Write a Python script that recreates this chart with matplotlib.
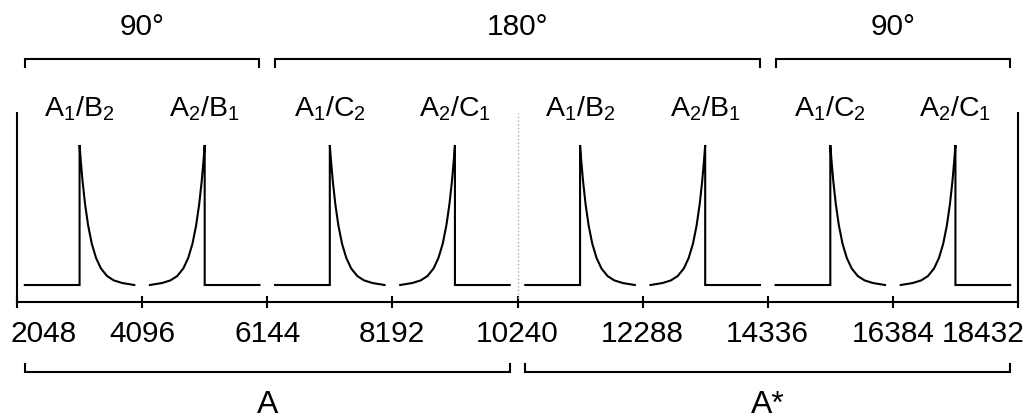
import matplotlib
matplotlib.use("Agg")
import matplotlib.pyplot as plt
import numpy as np

plt.rcParams['font.family'] = ['Liberation Sans', 'DejaVu Sans']
plt.rcParams['mathtext.fontset'] = 'custom'
plt.rcParams['mathtext.rm'] = 'Liberation Sans'
plt.rcParams['mathtext.it'] = 'Liberation Sans:italic'

### data
seg_width = 2048
seg_starts = [2048, 4096, 6144, 8192, 10240, 12288, 14336, 16384]
seg_kind = ['decay', 'rise', 'decay', 'rise', 'decay', 'rise', 'decay', 'rise']
seg_labels = [r'$\mathrm{A_1/B_2}$', r'$\mathrm{A_2/B_1}$', r'$\mathrm{A_1/C_2}$', r'$\mathrm{A_2/C_1}$',
              r'$\mathrm{A_1/B_2}$', r'$\mathrm{A_2/B_1}$', r'$\mathrm{A_1/C_2}$', r'$\mathrm{A_2/C_1}$']
# decay profile: offset after peak -> height
prof_dx = [0, 20, 50, 90, 140, 200, 270, 350, 450, 560, 700, 896]
prof_h = [1.0, 0.885, 0.737, 0.578, 0.426, 0.295, 0.193, 0.118, 0.064, 0.033, 0.014, 0.0]
margin = 128

top_groups = ['90°', '180°', '90°']
top_spans = [(0, 1), (2, 5), (6, 7)]
bot_groups = ['A', 'A*']
bot_spans = [(0, 3), (4, 7)]

ticks = [2048, 4096, 6144, 8192, 10240, 12288, 14336, 16384, 18432]
divider = 10240

### plot
fig = plt.figure(figsize=(10.27, 4.19), dpi=100)
ax = fig.add_axes([17/1027, 117/419, 1001/1027, 189/419])

dx = np.array(prof_dx)
h = np.array(prof_h)
for s, k in zip(seg_starts, seg_kind):
    mid = s + seg_width / 2
    if k == 'decay':
        xs = np.concatenate([[s + margin, mid], mid + dx])
        ys = np.concatenate([[0, 0], h])
    else:
        xs = np.concatenate([mid - dx[::-1], [mid, s + seg_width - margin]])
        ys = np.concatenate([h[::-1], [0, 0]])
    ax.plot(xs, ys, color='black', lw=1.5, solid_joinstyle='miter')

ax.axvline(divider, ymin=0.02, ymax=1.0, color='#aaaaaa', ls=':', lw=1)

ax.set_xlim(ticks[0], ticks[-1])
ax.set_ylim(-0.1214, 1.2286)
ax.set_yticks([])
ax.set_xticks(ticks)
ax.tick_params(axis='x', direction='inout', length=9, width=1.5, labelbottom=False)
ax.spines['top'].set_visible(False)
for sp in ['left', 'right', 'bottom']:
    ax.spines[sp].set_linewidth(1.5)

tr = ax.get_xaxis_transform()

# tick labels (edge ones pulled inside the picture)
for i, t in enumerate(ticks):
    if i == 0:
        ha, off = 'left', -7
    elif i == len(ticks) - 1:
        ha, off = 'right', 7
    else:
        ha, off = 'center', 0
    ax.annotate(str(t), xy=(t, 0), xycoords=tr, xytext=(off, -40),
                textcoords='offset pixels', ha=ha, va='baseline', fontsize=21.5)

# segment labels
for s, lab in zip(seg_starts, seg_labels):
    ax.text(s + seg_width / 2, 0.984, lab, transform=tr, ha='center', va='baseline',
            fontsize=20.5, clip_on=False)

# top brackets
for lab, (a, b) in zip(top_groups, top_spans):
    x0 = seg_starts[a] + margin
    x1 = seg_starts[b] + seg_width - margin
    ax.plot([x0, x0, x1, x1], [1.2434, 1.2857, 1.2857, 1.2434], transform=tr,
            color='black', lw=1.5, clip_on=False, solid_joinstyle='miter')
    ax.text((x0 + x1) / 2, 1.4127, lab, transform=tr, ha='center', va='baseline',
            fontsize=21.5, clip_on=False)

# bottom brackets
for lab, (a, b) in zip(bot_groups, bot_spans):
    x0 = seg_starts[a] + margin
    x1 = seg_starts[b] + seg_width - margin
    ax.plot([x0, x0, x1, x1], [-0.328, -0.3704, -0.3704, -0.328], transform=tr,
            color='black', lw=1.5, clip_on=False, solid_joinstyle='miter')
    ax.text((x0 + x1) / 2, -0.587, lab, transform=tr, ha='center', va='baseline',
            fontsize=23, clip_on=False)

fig.savefig('out.png', dpi=100)
